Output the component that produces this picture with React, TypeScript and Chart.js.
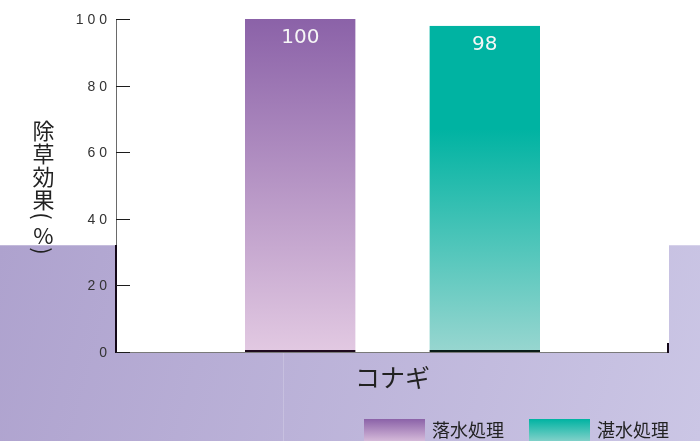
import React, { useEffect, useRef } from "react";
import { Chart, registerables } from "chart.js";

Chart.register(...registerables);

const categories = ["コナギ"];
const seriesNames = ["落水処理", "湛水処理"];
const drainedValues = [100];
const floodedValues = [98];
const yTicks = [0, 20, 40, 60, 80, 100];
const yTitle = "除草効果(%)";

const PURPLE_TOP = "#8b62a8";
const PURPLE_BOTTOM = "#e2c9e2";
const TEAL_TOP = "#00b3a2";
const TEAL_BOTTOM = "#98d6d0";

function makeGradient(ctx: CanvasRenderingContext2D, y0: number, y1: number, stops: [number, string][]) {
  const g = ctx.createLinearGradient(0, y0, 0, y1);
  stops.forEach(([o, c]) => g.addColorStop(o, c));
  return g;
}

const purpleStops: [number, string][] = [[0, PURPLE_TOP], [1, PURPLE_BOTTOM]];
const tealStops: [number, string][] = [[0, TEAL_TOP], [0.33, TEAL_TOP], [1, TEAL_BOTTOM]];
const tealLegendStops: [number, string][] = [[0, TEAL_TOP], [1, TEAL_BOTTOM]];

const backgroundPlugin = {
  id: "bgPlugin",
  beforeDraw(chart: any) {
    const { ctx, width, height, chartArea } = chart;
    ctx.save();
    ctx.fillStyle = "#ffffff";
    ctx.fillRect(0, 0, width, height);
    const bandTop = 245;
    const g = ctx.createLinearGradient(0, bandTop, width, height);
    g.addColorStop(0, "#aea2ce");
    g.addColorStop(1, "#cbc6e5");
    ctx.fillStyle = g;
    ctx.fillRect(0, bandTop, width, height - bandTop);
    ctx.fillStyle = "rgba(255,255,255,0.25)";
    ctx.fillRect(0, bandTop, width, 1);
    ctx.fillStyle = "rgba(255,255,255,0.18)";
    ctx.fillRect(283, chartArea.bottom, 1, height - chartArea.bottom);
    ctx.fillStyle = "#ffffff";
    ctx.fillRect(chartArea.left, chartArea.top, chartArea.right - chartArea.left, chartArea.bottom - chartArea.top);
    ctx.restore();
  },
};

const axesPlugin = {
  id: "axesPlugin",
  afterDatasetsDraw(chart: any) {
    const { ctx, chartArea, scales } = chart;
    const y = scales.y;
    const x = scales.x;
    ctx.save();
    // left axis
    ctx.strokeStyle = "#6a6a6a";
    ctx.lineWidth = 1;
    ctx.beginPath();
    ctx.moveTo(chartArea.left + 0.5, chartArea.top);
    ctx.lineTo(chartArea.left + 0.5, chartArea.bottom);
    ctx.stroke();
    ctx.fillStyle = "#140818";
    ctx.fillRect(chartArea.left - 1, 245, 2, chartArea.bottom - 245 + 1);
    // bottom axis
    ctx.strokeStyle = "#7a7a7a";
    ctx.lineWidth = 1.2;
    ctx.beginPath();
    ctx.moveTo(chartArea.left, chartArea.bottom + 0.5);
    ctx.lineTo(chartArea.right, chartArea.bottom + 0.5);
    ctx.stroke();
    // right end tick
    ctx.fillStyle = "#140818";
    ctx.fillRect(chartArea.right - 2, chartArea.bottom - 9, 2, 10);
    // y ticks
    ctx.strokeStyle = "#1c1c1c";
    ctx.lineWidth = 1;
    ctx.fillStyle = "#333333";
    ctx.font = '14px "Liberation Sans", Arial, sans-serif';
    (ctx as any).letterSpacing = "4px";
    ctx.textAlign = "right";
    ctx.textBaseline = "middle";
    yTicks.forEach((v) => {
      const py = Math.round(y.getPixelForValue(v));
      ctx.beginPath();
      ctx.moveTo(chartArea.left, py + 0.5);
      ctx.lineTo(chartArea.left + 14, py + 0.5);
      ctx.stroke();
      ctx.fillText(String(v), chartArea.left - 5, py + 1);
    });
    (ctx as any).letterSpacing = "0px";
    // category labels
    ctx.fillStyle = "#222222";
    ctx.font = '25px "Noto Sans CJK JP", sans-serif';
    ctx.textAlign = "center";
    categories.forEach((c, i) => {
      ctx.fillText(c, x.getPixelForValue(i), chartArea.bottom + 25);
    });
    // y title vertical
    ctx.font = '22px "Noto Sans CJK JP", sans-serif';
    const chars = Array.from(yTitle);
    const cx = 43.5;
    let cy = 118;
    chars.forEach((ch) => {
      const isParen = ch === "(" || ch === ")";
      const isPct = ch === "%";
      const h = isParen ? 12 : isPct ? 20 : 23;
      const mid = cy + h / 2;
      if (isParen) {
        ctx.save();
        ctx.translate(cx, mid);
        ctx.rotate(Math.PI / 2);
        ctx.fillText(ch, 0, 1);
        ctx.restore();
      } else {
        ctx.fillText(ch, cx, mid + 1);
      }
      cy += h + (isParen ? 3 : 0);
    });
    // data labels
    ctx.fillStyle = "#f6f6f6";
    ctx.font = '20px "DejaVu Sans", sans-serif';
    chart.data.datasets.forEach((ds: any, di: number) => {
      const meta = chart.getDatasetMeta(di);
      meta.data.forEach((bar: any, i: number) => {
        ctx.fillText(String(ds.data[i]), bar.x, bar.y + 19);
      });
    });
    // legend
    const legendItems = [
      { x: 364, stops: purpleStops },
      { x: 529, stops: tealLegendStops },
    ];
    ctx.font = '18px "Noto Sans CJK JP", sans-serif';
    ctx.textAlign = "left";
    chart.data.datasets.forEach((ds: any, di: number) => {
      const it = legendItems[di];
      const top = 419;
      ctx.fillStyle = makeGradient(ctx, top, top + 26, it.stops);
      ctx.fillRect(it.x, top, 61, 26);
      ctx.fillStyle = "#222222";
      ctx.fillText(ds.label, it.x + 68, top + 11);
    });
    ctx.restore();
  },
};

export default function App() {
  const ref = useRef<HTMLCanvasElement | null>(null);
  useEffect(() => {
    if (!ref.current) return;
    const chart = new Chart(ref.current, {
      type: "bar",
      data: {
        labels: categories,
        datasets: [
          {
            label: seriesNames[0],
            data: drainedValues,
            backgroundColor: (c: any) => {
              const a = c.chart.chartArea;
              if (!a) return PURPLE_TOP;
              return makeGradient(c.chart.ctx, a.top, a.bottom, purpleStops);
            },
            borderColor: "#1e0a1e",
            borderWidth: { top: 0, left: 0, right: 0, bottom: 2 },
            borderSkipped: false,
          },
          {
            label: seriesNames[1],
            data: floodedValues,
            backgroundColor: (c: any) => {
              const a = c.chart.chartArea;
              if (!a) return TEAL_TOP;
              return makeGradient(c.chart.ctx, a.top, a.bottom, tealStops);
            },
            borderColor: "#0a1c18",
            borderWidth: { top: 0, left: 0, right: 0, bottom: 2 },
            borderSkipped: false,
          },
        ],
      },
      options: {
        animation: false,
        responsive: true,
        maintainAspectRatio: false,
        layout: { padding: { left: 116, right: 31, top: 19, bottom: 89 } },
        datasets: { bar: { categoryPercentage: 0.667, barPercentage: 0.6 } } as any,
        scales: {
          x: { display: false },
          y: { display: false, min: 0, max: 100 },
        },
        plugins: {
          legend: { display: false },
          tooltip: { enabled: false },
        },
      },
      plugins: [backgroundPlugin, axesPlugin],
    });
    return () => chart.destroy();
  }, []);
  return (
    <div style={{ position: "fixed", left: 0, top: 0, width: 700, height: 441 }}>
      <canvas ref={ref} />
    </div>
  );
}
